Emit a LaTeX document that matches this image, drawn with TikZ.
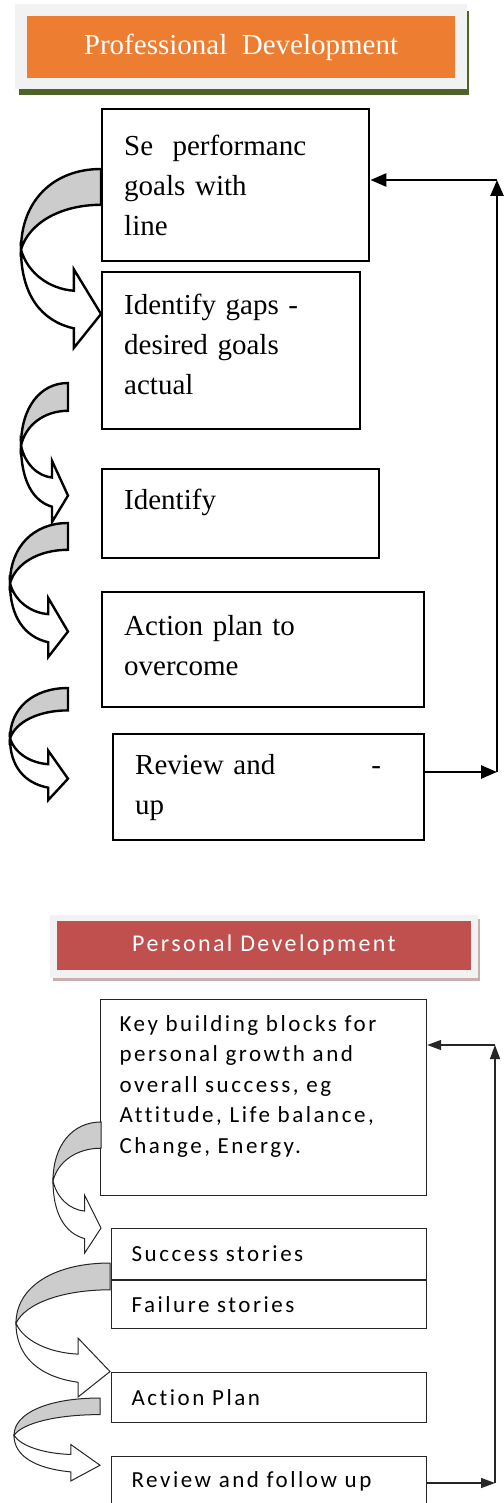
\documentclass[tikz,border=0pt]{standalone}
\usepackage{fontspec}
\setmainfont{Liberation Serif}
\newfontfamily\calibri{Carlito}[LetterSpace=11,WordSpace=0.5,Ligatures=NoCommon]
\newfontfamily\calibrihead{Carlito}[LetterSpace=10,Ligatures=NoCommon]
\usetikzlibrary{arrows.meta,positioning}
\definecolor{orangehead}{HTML}{ED7D31}
\definecolor{redhead}{HTML}{C0504D}
\definecolor{olive}{HTML}{4F6228}
\definecolor{paper}{HTML}{F2F2F2}
\definecolor{rose}{HTML}{C8AEAD}
\definecolor{band}{gray}{0.8}

% curved block arrow: [options]{left x}{top y}{width}{height}
\newcommand\bendarrow[5][]{%
  \begin{scope}[shift={(#2,#3)},xscale=#4,yscale=#5,#1]
    \filldraw[fill=band] (1,0) .. controls (0.4,0) and (0,0.18) .. (0,0.45)
      .. controls (0.1,0.3) and (0.5,0.2) .. (1,0.2) -- cycle;
    \filldraw[fill=white] (0,0.45) .. controls (0.08,0.58) and (0.35,0.67) .. (0.66,0.68)
      -- (0.66,0.56) -- (1,0.81) -- (0.66,1) -- (0.66,0.89)
      .. controls (0.25,0.85) and (0,0.7) .. (0,0.45) -- cycle;
  \end{scope}}

\begin{document}
\begin{tikzpicture}[x=1pt,y=-1pt,
    profbox/.style={draw,line width=2.4pt,rectangle,align=left,anchor=north west,
      inner xsep=22pt,font=\fontsize{29}{40}\selectfont},
    persbox/.style={draw=black!85,line width=1.2pt,rectangle,align=left,anchor=north west,
      inner xsep=19pt,font=\calibri\fontsize{23}{30.5}\selectfont},
    headbox/.style={rectangle,text=white,inner sep=0pt},
    loopline/.style={line width=2.6pt,-{Triangle[length=16pt,width=13pt]}},
    thinloop/.style={line width=1.3pt,black!85,-{Triangle[length=14pt,width=10pt]}}
  ]
  \useasboundingbox (0,0) rectangle (503,1503);

  % ---- professional development ----
  \fill[olive] (19,11) rectangle (469,95);
  \fill[paper] (15,4) rectangle (467,89);
  \node[headbox,fill=orangehead,minimum width=428pt,minimum height=62pt,
    font=\fontsize{29}{34}\selectfont] (profhead) at (241,47) {Professional\ \ Development\hspace{12pt}};

  % text depth below = lines under the first one, plus room to lift the text
  \node[profbox,text width=223pt,minimum height=152pt] (goals) at (101,108)
    {Se\ \ performanc\\goals with\\line};
  \node[profbox,text width=214pt,minimum height=157pt,text depth=93pt] (gaps) at (101,271)
    {Identify gaps -\\desired goals\\actual};
  \node[profbox,text width=233pt,minimum height=89pt,text depth=29pt] (ident) at (101,468)
    {Identify};
  \node[profbox,text width=278pt,minimum height=115pt,text depth=48pt] (plan) at (101,591)
    {Action plan to\\overcome};
  \node[profbox,text width=267pt,minimum height=106pt] (rev) at (112,733)
    {Review and\hspace{96pt}-\\up};

  \bendarrow[line width=2.4pt]{21}{169}{80}{179}
  \bendarrow[line width=2.4pt]{21}{383}{47}{139}
  \bendarrow[line width=2.4pt]{10}{523}{58}{134}
  \bendarrow[line width=2.4pt]{10}{688}{58}{112}

  \coordinate (fbTop) at (497,180);
  \coordinate (fbBot) at (497,772);
  \draw[loopline] (rev.east |- fbBot) -- (fbBot);
  \draw[loopline] (fbBot) -- (fbTop);
  \draw[loopline] (fbTop) -- (goals.east |- fbTop);

  % ---- personal development ----
  \fill[rose] (53,919) rectangle (480,981);
  \fill[paper] (50,915) rectangle (478,978);
  \node[headbox,fill=redhead,minimum width=414pt,minimum height=49pt,
    font=\calibrihead\fontsize{24}{28}\selectfont] (pershead) at (264,945.5) {Personal Development};

  \node[persbox,text width=288pt,minimum height=196pt,text depth=149pt] (blocks) at (100,999)
    {Key building blocks for\\personal growth and\\overall success, eg\\Attitude, Life balance,\\Change, Energy.};
  \node[persbox,inner xsep=20pt,text width=275pt,minimum height=51pt] (success) at (111,1228)
    {Success stories};
  \node[persbox,inner xsep=20pt,text width=275pt,minimum height=48pt,below=0pt of success.south west,anchor=north west] (failure)
    {Failure stories};
  \node[persbox,inner xsep=20pt,text width=275pt,minimum height=50pt] (action) at (111,1372)
    {Action Plan};
  \node[persbox,inner xsep=20pt,text width=275pt,minimum height=49pt] (follow) at (111,1456)
    {Review and follow up};

  \bendarrow[line width=1pt,draw=black!85]{53}{1122}{48}{131}
  \bendarrow[line width=1pt,draw=black!85]{16}{1263}{94}{134}
  \bendarrow[line width=1pt,draw=black!85]{14}{1398}{86}{83}

  \coordinate (pfTop) at (495,1045);
  \coordinate (pfBot) at (495,1483);
  \draw[thinloop] (follow.east |- pfBot) -- (pfBot);
  \draw[thinloop] (pfBot) -- (pfTop);
  \draw[thinloop] (pfTop) -- (blocks.east |- pfTop);
\end{tikzpicture}
\end{document}
